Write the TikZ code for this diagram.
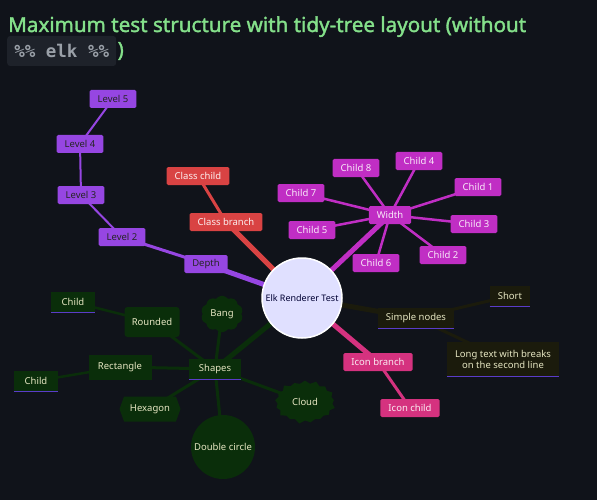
\documentclass[tikz,border=0pt]{standalone}
\usepackage{fontspec}
\setmainfont{Noto Sans}
\setmonofont{DejaVu Sans Mono}
\newfontfamily\titlefont{Noto Sans}[FakeBold=1.6]
\usetikzlibrary{shapes.symbols,shapes.geometric}
\definecolor{bgc}{HTML}{10131A}
\definecolor{rootc}{HTML}{E0E0FF}
\definecolor{lvlc}{HTML}{9646E2}
\definecolor{redc}{HTML}{D94343}
\definecolor{magc}{HTML}{C02EC4}
\definecolor{pinkc}{HTML}{D5327F}
\definecolor{grnc}{HTML}{0A2E0A}
\definecolor{olvc}{HTML}{1B1B0C}
\definecolor{ulc}{HTML}{5A3CC8}
\definecolor{lighttxt}{HTML}{E6E6C2}
\definecolor{titlec}{HTML}{84E08A}
\definecolor{codebg}{HTML}{1E222A}
\definecolor{codetxt}{HTML}{9AA0A8}
\pgfdeclarelayer{bg}
\pgfsetlayers{bg,main}
\tikzstyle{box} = [rectangle,rounded corners=1.5pt,minimum height=18pt,inner xsep=8pt,font=\fontsize{9.5}{11}\selectfont]
\tikzstyle{lvl} = [box,fill=lvlc,text=black!85]
\tikzstyle{cls} = [box,fill=redc,text=white!92!redc]
\tikzstyle{wid} = [box,fill=magc,text=white!90!magc]
\tikzstyle{icn} = [box,fill=pinkc,text=white!90!pinkc]
\tikzstyle{grn} = [fill=grnc,text=lighttxt,font=\fontsize{9.5}{11}\selectfont]
\tikzstyle{olv} = [box,rounded corners=0pt,fill=olvc,text=lighttxt,minimum height=20pt]
\tikzstyle{uline} = [append after command={(\tikzlastnode.south west) edge[draw=ulc,line width=1.2pt] (\tikzlastnode.south east)}]
\tikzstyle{trunk} = [line width=5pt]
\tikzstyle{twig} = [line width=2.5pt]

\begin{document}
\begin{tikzpicture}[x=1pt,y=-1pt]
  \begin{pgfonlayer}{bg}
    \fill[bgc] (0,0) rectangle (597,500);
  \end{pgfonlayer}
  \node[anchor=base west,inner sep=0pt,text=titlec,font=\fontsize{20.6}{26}\titlefont] (title) at (8,32)
    {Maximum test structure with tidy-tree layout (without};
  \node[anchor=west,fill=codebg,rounded corners=3pt,minimum height=30pt,minimum width=109pt,inner sep=0pt,
    text=codetxt,font=\fontsize{17.5}{20}\ttfamily\bfseries] (code) at (7,51) {\%\% elk \%\%};
  \node[anchor=west,inner sep=1pt,text=titlec,font=\fontsize{20.6}{26}\titlefont] (paren) at (code.east) {)};

  \node[circle,fill=rootc,draw=white,line width=1.5pt,minimum size=80pt,inner sep=0pt,text=black!80!blue,
    font=\fontsize{9}{10}\selectfont] (root) at (302,298) {Elk Renderer Test};

  \node[lvl] (depth) at (206,264) {Depth};
  \node[lvl] (lvl2) at (122,237) {Level 2};
  \node[lvl] (lvl3) at (81,195) {Level 3};
  \node[lvl] (lvl4) at (80,144) {Level 4};
  \node[lvl] (lvl5) at (113,99) {Level 5};

  \node[cls] (clsb) at (226,222) {Class branch};
  \node[cls] (clsc) at (198,176) {Class child};

  \node[wid] (width) at (390,215) {Width};
  \node[wid] (ch1) at (478,187) {Child 1};
  \node[wid] (ch2) at (443,255) {Child 2};
  \node[wid] (ch3) at (474,224) {Child 3};
  \node[wid] (ch4) at (419,161) {Child 4};
  \node[wid] (ch5) at (312,230) {Child 5};
  \node[wid] (ch6) at (376,263) {Child 6};
  \node[wid] (ch7) at (301,193) {Child 7};
  \node[wid] (ch8) at (356,168) {Child 8};

  \node[olv,uline] (simple) at (416,318) {Simple nodes};
  \node[olv,uline] (short) at (510,296) {Short};
  \node[olv,uline,align=center,minimum height=34pt] (long) at (503,359) {Long text with breaks\\on the second line};

  \node[icn] (iconb) at (378,362) {Icon branch};
  \node[icn] (iconc) at (410,408) {Icon child};

  \node[grn,rectangle,uline,minimum width=52pt,minimum height=20pt] (shapes) at (215,369) {Shapes};
  \node[grn,cloud,cloud puffs=10,cloud puff arc=110,minimum width=42pt,minimum height=32pt,inner sep=0pt] (bang) at (222,314) {Bang};
  \node[grn,rectangle,rounded corners=3pt,minimum width=55pt,minimum height=30pt] (rounded) at (152,322) {Rounded};
  \node[grn,rectangle,minimum width=63pt,minimum height=25pt] (rect) at (120,367) {Rectangle};
  \node[grn,signal,signal to=west and east,signal pointer angle=140,minimum width=61pt,minimum height=25pt,inner sep=2pt] (hexa) at (150,409) {Hexagon};
  \node[grn,circle,minimum size=64pt,inner sep=0pt] (dcirc) at (223,447) {Double circle};
  \node[grn,starburst,starburst points=17,starburst point height=4pt,minimum width=63pt,minimum height=45pt,inner sep=0pt] (cloud) at (305,402) {Cloud};
  \node[grn,rectangle,uline,minimum width=44pt,minimum height=20pt] (chtop) at (73,302) {Child};
  \node[grn,rectangle,uline,minimum width=44pt,minimum height=20pt] (chleft) at (36,381) {Child};

  \begin{pgfonlayer}{bg}
    \draw[trunk,lvlc] (root.center) -- (depth.center);
    \draw[line width=3pt,lvlc] (depth.center) -- (lvl2.center);
    \draw[line width=2pt,lvlc] (lvl2.center) -- (lvl3.center);
    \draw[line width=2pt,lvlc] (lvl3.center) -- (lvl4.center);
    \draw[line width=2pt,lvlc] (lvl4.center) -- (lvl5.center);
    \draw[trunk,redc] (root.center) -- (clsb.center);
    \draw[line width=3pt,redc] (clsb.center) -- (clsc.center);
    \draw[trunk,magc] (root.center) -- (width.center);
    \foreach \c in {ch1,ch2,ch3,ch4,ch5,ch6,ch7,ch8}
      \draw[twig,magc] (width.center) -- (\c.center);
    \draw[trunk,olvc] (root.center) -- (simple.center);
    \draw[line width=3pt,olvc] (simple.center) -- (short.center);
    \draw[line width=3pt,olvc] (simple.center) -- (long.center);
    \draw[trunk,pinkc] (root.center) -- (iconb.center);
    \draw[line width=3pt,pinkc] (iconb.center) -- (iconc.center);
    \draw[trunk,grnc] (root.center) -- (shapes.center);
    \foreach \c in {bang,rounded,rect,hexa,dcirc,cloud}
      \draw[line width=3pt,grnc] (shapes.center) -- (\c.center);
    \draw[twig,grnc] (rounded.center) -- (chtop.center);
    \draw[twig,grnc] (rect.center) -- (chleft.center);
  \end{pgfonlayer}
\end{tikzpicture}
\end{document}
